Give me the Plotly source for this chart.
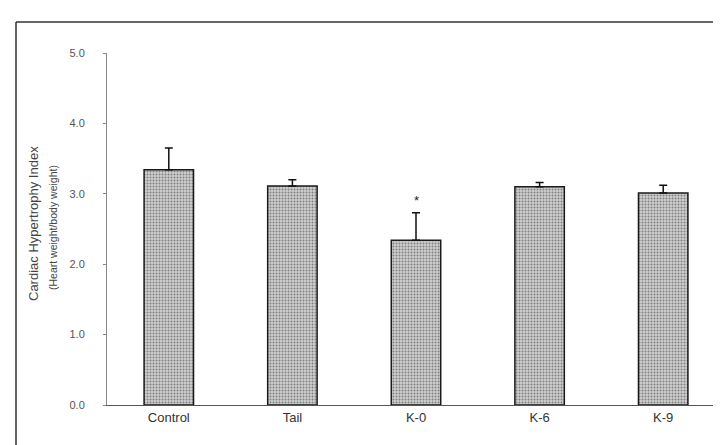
import plotly.graph_objects as go

categories = ["Control", "Tail", "K-0", "K-6", "K-9"]
means = [3.34, 3.11, 2.34, 3.10, 3.01]
errors = [0.31, 0.09, 0.39, 0.06, 0.11]
ytick_vals = [0, 1, 2, 3, 4, 5]
ytick_text = ["0.0", "1.0", "2.0", "3.0", "4.0", "5.0"]
sig_marks = ["", "", "*", "", ""]

fig = go.Figure()
fig.add_trace(go.Bar(
    x=categories, y=means,
    marker=dict(
        color="#c4c4c4",
        line=dict(color="#1a1a1a", width=1.5),
        pattern=dict(shape=".", fgcolor="#808080", bgcolor="#cfcfcf", size=3, solidity=0.35, fillmode="replace"),
    ),
    error_y=dict(type="data", array=errors, arrayminus=[0] * len(errors), symmetric=False,
                 color="#111111", thickness=1.5, width=4),
    width=0.4,
    showlegend=False,
))

for c, m, e, s in zip(categories, means, errors, sig_marks):
    if s:
        fig.add_annotation(x=c, y=m + e, text=s, showarrow=False, yanchor="bottom", yshift=3,
                           font=dict(family="Liberation Sans, Arial", size=13, color="#222"))

fig.add_annotation(xref="paper", yref="paper", x=(25 - 99) / 618, y=(397 - 216) / 352,
                   xanchor="center", yanchor="middle",
                   text="Cardiac Hypertrophy Index", textangle=-90, showarrow=False,
                   font=dict(family="Liberation Sans, Arial", size=13, color="#444"))
fig.add_annotation(xref="paper", yref="paper", x=(45 - 99) / 618, y=(397 - 220) / 352,
                   xanchor="center", yanchor="middle",
                   text="(Heart weight/body weight)", textangle=-90, showarrow=False,
                   font=dict(family="Liberation Sans, Arial", size=10.5, color="#444"))

# scanned page frame lines
fig.add_shape(type="line", xref="paper", yref="paper", x0=(8 - 99) / 618, x1=(721 - 99) / 618,
              y0=(397 - 14) / 352, y1=(397 - 14) / 352, line=dict(color="#333", width=1.5))
fig.add_shape(type="line", xref="paper", yref="paper", x0=(8 - 99) / 618, x1=(8 - 99) / 618,
              y0=(397 - 14) / 352, y1=(397 - 440) / 352, line=dict(color="#333", width=1.5))
fig.add_shape(type="line", xref="paper", yref="paper", x0=(0 - 99) / 618, x1=(245 - 99) / 618,
              y0=(397 - 440) / 352, y1=(397 - 440) / 352, line=dict(color="#333", width=1.5))

fig.update_layout(
    width=721, height=445,
    margin=dict(l=99, r=4, t=45, b=48, autoexpand=False),
    paper_bgcolor="white", plot_bgcolor="white",
    font=dict(family="Liberation Sans, Arial", color="#444"),
    bargap=0.6,
    xaxis=dict(range=[-0.5, 4.5], showline=True, linecolor="#555", linewidth=1, ticks="",
               tickfont=dict(size=13, color="#333"), showgrid=False, zeroline=False,
               automargin=False),
    yaxis=dict(range=[0, 5], tickvals=ytick_vals, ticktext=ytick_text, showline=True,
               linecolor="#888", linewidth=1, ticks="outside", ticklen=3, tickcolor="#888",
               tickfont=dict(size=11, color="#555"), showgrid=False, zeroline=False,
               ticklabelstandoff=16, automargin=False),
)

fig.write_html("out.html")
